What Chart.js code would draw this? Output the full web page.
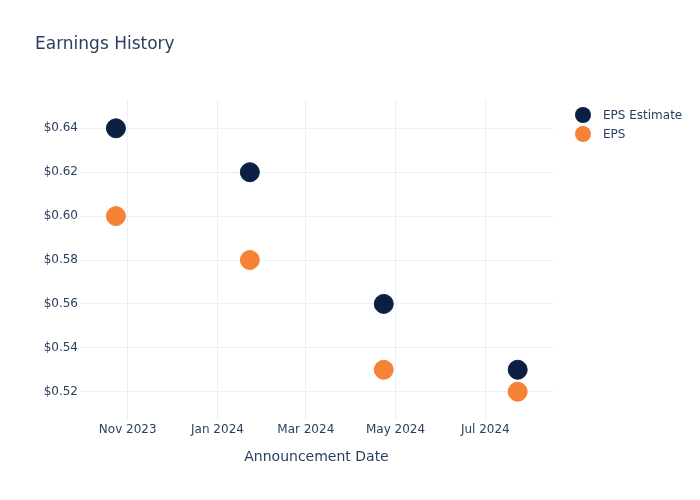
<!DOCTYPE html>
<html>
<head>
<meta charset="utf-8">
<script src="https://cdn.jsdelivr.net/npm/chart.js@4"></script>
<style>
  html, body { margin: 0; padding: 0; background: #fff; }
  #wrap { width: 700px; height: 500px; }
</style>
</head>
<body>
<div id="wrap"><canvas id="earnings" width="700" height="500"></canvas></div>
<script>
// announcement dates and eps values
var announceDates = ['2023-10-24', '2024-01-23', '2024-04-23', '2024-07-23'];
var epsEstimate = [0.64, 0.62, 0.56, 0.53];
var epsActual = [0.60, 0.58, 0.53, 0.52];

// axis ticks
var xTickDates = ['2023-11-01', '2024-01-01', '2024-03-01', '2024-05-01', '2024-07-01'];
var xTickLabels = ['Nov 2023', 'Jan 2024', 'Mar 2024', 'May 2024', 'Jul 2024'];
var yTicks = [0.52, 0.54, 0.56, 0.58, 0.60, 0.62, 0.64];

var FONT = '"DejaVu Sans", Verdana, sans-serif';
var TXT = '#2a3f5f';
var GRID = '#ebf0f8';
var NAVY = '#0b1f42';
var ORANGE = '#f68236';

function toMs(d) { return Date.parse(d + 'T00:00:00Z'); }
var xTickVals = xTickDates.map(toMs);

function pts(vals) {
  return announceDates.map(function(d, i) { return { x: toMs(d), y: vals[i] }; });
}

var series = [
  { label: 'EPS Estimate', data: pts(epsEstimate), color: NAVY },
  { label: 'EPS', data: pts(epsActual), color: ORANGE }
];

var titleLegend = {
  id: 'titleLegend',
  afterDraw: function(chart) {
    var ctx = chart.ctx;
    ctx.save();
    ctx.fillStyle = TXT;
    ctx.textBaseline = 'middle';
    ctx.textAlign = 'left';
    ctx.font = '17px ' + FONT;
    ctx.fillText('Earnings History', 35, 45);
    ctx.font = '12px ' + FONT;
    series.forEach(function(s, i) {
      var y = 115 + i * 19;
      ctx.beginPath();
      ctx.arc(583, y, 8, 0, Math.PI * 2);
      ctx.fillStyle = s.color;
      ctx.fill();
      ctx.fillStyle = TXT;
      ctx.fillText(s.label, 603, y + 1);
    });
    ctx.restore();
  }
};

new Chart(document.getElementById('earnings').getContext('2d'), {
  type: 'scatter',
  data: {
    datasets: series.map(function(s) {
      return {
        label: s.label,
        data: s.data,
        backgroundColor: s.color,
        borderColor: s.color,
        borderWidth: 1,
        pointRadius: 9.5,
        pointHoverRadius: 9.5
      };
    })
  },
  options: {
    responsive: false,
    animation: false,
    devicePixelRatio: 1,
    layout: { padding: { top: 100, right: 147, left: 0, bottom: 0 } },
    plugins: {
      legend: { display: false },
      title: { display: false },
      tooltip: { enabled: false }
    },
    scales: {
      x: {
        type: 'linear',
        min: Date.parse('2023-09-29T14:00:00Z'),
        max: Date.parse('2024-08-16T00:00:00Z'),
        afterBuildTicks: function(scale) {
          scale.ticks = xTickVals.map(function(v) { return { value: v }; });
        },
        afterFit: function(scale) { scale.height = 80; },
        ticks: {
          color: TXT,
          font: { family: FONT, size: 12 },
          padding: 3,
          maxRotation: 0,
          autoSkip: false,
          callback: function(v) {
            var i = xTickVals.indexOf(v);
            return i >= 0 ? xTickLabels[i] : '';
          }
        },
        grid: { color: GRID, lineWidth: 1, drawTicks: false },
        border: { display: false },
        title: {
          display: true,
          text: 'Announcement Date',
          color: TXT,
          font: { family: FONT, size: 14 },
          padding: { top: 10, bottom: 34 }
        }
      },
      y: {
        min: 0.5071,
        max: 0.6529,
        afterBuildTicks: function(scale) {
          scale.ticks = yTicks.map(function(v) { return { value: v }; });
        },
        afterFit: function(scale) { scale.width = 80; },
        ticks: {
          color: TXT,
          font: { family: FONT, size: 12 },
          padding: 2,
          callback: function(v) { return '$' + v.toFixed(2); }
        },
        grid: { color: GRID, lineWidth: 1, drawTicks: false },
        border: { display: false }
      }
    }
  },
  plugins: [titleLegend]
});
</script>
</body>
</html>
